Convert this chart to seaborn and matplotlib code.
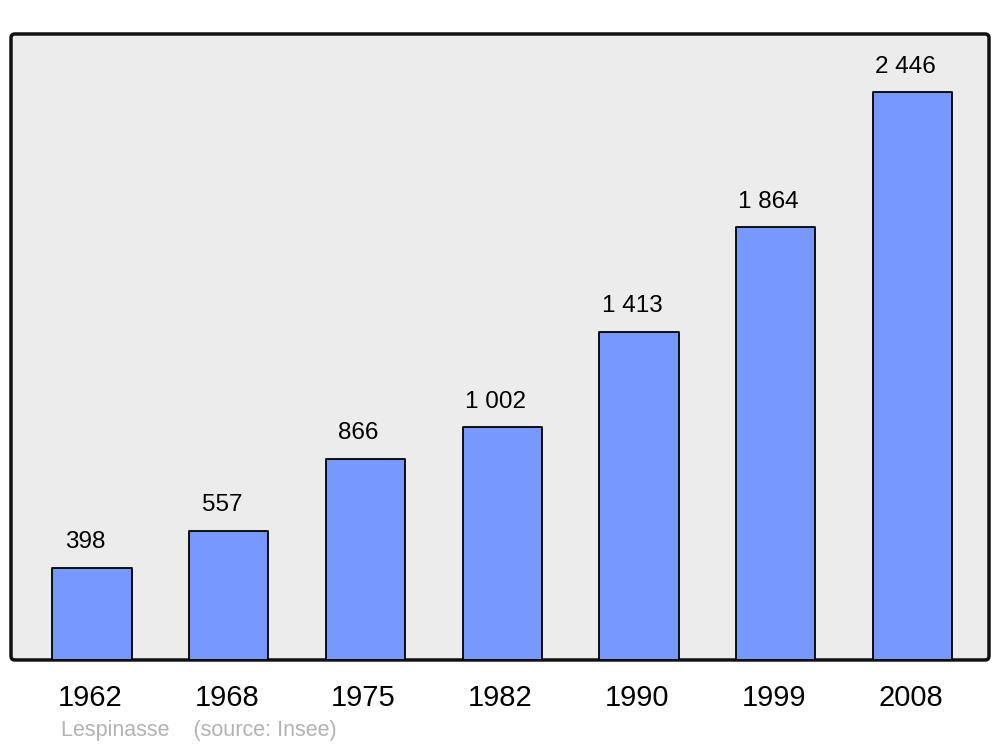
import numpy as np
import pandas as pd
import seaborn as sns
import matplotlib.pyplot as plt
import matplotlib.transforms as mtransforms
from matplotlib.patches import FancyBboxPatch

# Population data
years = ['1962', '1968', '1975', '1982', '1990', '1999', '2008']
population = [398, 557, 866, 1002, 1413, 1864, 2446]
value_labels = ['398', '557', '866', '1 002', '1 413', '1 864', '2 446']
footer = 'Lespinasse    (source: Insee)'

sns.set_style('white')
plt.rcParams['font.family'] = ['Liberation Sans', 'DejaVu Sans']

df = pd.DataFrame({'year': years, 'population': population})

fig = plt.figure(figsize=(10, 7.47), dpi=100)
ax = fig.add_axes([0.011, 0.1165, 0.978, 0.838])
ax.set_facecolor('none')

# background frame with rounded corners
frame = FancyBboxPatch((0, 0), 1, 1, boxstyle='round,pad=0,rounding_size=0.004',
                       transform=ax.transAxes, facecolor='#ececec', edgecolor='#111111',
                       linewidth=2.5, clip_on=False, zorder=0, mutation_aspect=1.56)
ax.add_patch(frame)

sns.barplot(data=df, x='year', y='population', color='#7799ff', saturation=1,
            width=0.58, edgecolor='black', linewidth=1.3, ax=ax, zorder=2)
for bar in ax.patches[1:]:
    bar.set_joinstyle('round')

# value labels above bars
for bar, lab in zip(ax.patches[1:], value_labels):
    ax.annotate(lab, xy=(bar.get_x() + bar.get_width() / 2, bar.get_height()),
                xytext=(-5, 14), textcoords='offset points',
                ha='center', va='baseline', fontsize=17.5, color='black')

ax.set_xlim(-0.593, 6.56)
ax.set_ylim(0, 2696)
ax.set_xlabel('')
ax.set_ylabel('')
ax.set_yticks([])
ax.tick_params(axis='x', length=0, pad=17, labelsize=21, labelcolor='black')
# nudge tick labels slightly left
shift = mtransforms.ScaledTranslation(-2 / 100, 0, fig.dpi_scale_trans)
for lab in ax.get_xticklabels():
    lab.set_transform(lab.get_transform() + shift)
for s in ax.spines.values():
    s.set_visible(False)

fig.text(0.061, 0.0145, footer, fontsize=15.5, color='#b3b3b3', ha='left', va='baseline')

fig.savefig('out.png', dpi=100)
